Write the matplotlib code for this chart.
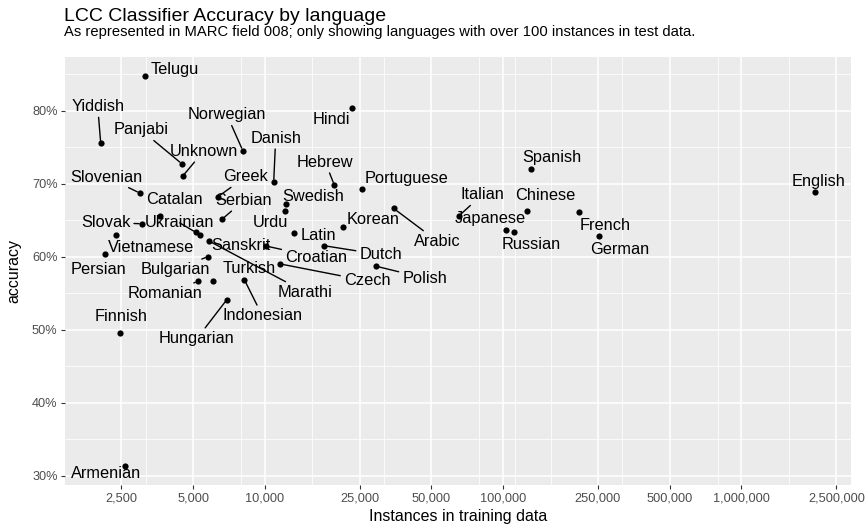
import numpy as np
import matplotlib
matplotlib.use("Agg")
import matplotlib.pyplot as plt
from matplotlib.ticker import FixedLocator, FuncFormatter, NullFormatter

plt.rcParams['font.family'] = ['Liberation Sans', 'DejaVu Sans']

# Values
languages = [
    "Telugu", "Yiddish", "Hindi", "Norwegian", "Panjabi", "Unknown", "Danish",
    "Hebrew", "Slovenian", "Greek", "Portuguese", "Swedish", "Urdu", "Serbian",
    "Catalan", "Slovak", "Ukrainian", "Sanskrit", "Marathi", "Bulgarian",
    "Romanian", "Turkish", "Indonesian", "Hungarian", "Finnish", "Armenian",
    "Croatian", "Vietnamese", "Persian", "Latin", "Korean", "Arabic", "Dutch",
    "Czech", "Polish", "Italian", "Japanese", "Russian", "Chinese", "Spanish",
    "French", "German", "English",
]
training_instances = [
    3150, 2050, 23200, 8090, 4490, 4520, 10900,
    19570, 2990, 6360, 25470, 12320, 12200, 6610,
    3640, 3050, 5150, 5340, 5860, 5770,
    5240, 6050, 8220, 6930, 2470, 2580,
    10120, 2380, 2130, 13310, 21230, 34720, 17660,
    11590, 29170, 65390, 102900, 111600, 125600, 130600,
    208900, 251700, 2040000,
]
accuracy = [
    0.847, 0.755, 0.803, 0.745, 0.727, 0.710, 0.702,
    0.698, 0.687, 0.682, 0.692, 0.672, 0.663, 0.651,
    0.655, 0.645, 0.633, 0.629, 0.621, 0.600,
    0.566, 0.567, 0.568, 0.541, 0.496, 0.314,
    0.6145, 0.6295, 0.603, 0.632, 0.641, 0.666, 0.615,
    0.590, 0.587, 0.656, 0.637, 0.634, 0.662, 0.720,
    0.661, 0.628, 0.688,
]

x_breaks = [2500, 5000, 10000, 25000, 50000, 100000, 250000, 500000, 1000000, 2500000]
x_minor = [10 ** e for e in (3.5, 3.9, 4.2, 4.5, 4.9, 5.05, 5.2, 5.5, 5.9, 6.2)]
y_breaks = [0.3, 0.4, 0.5, 0.6, 0.7, 0.8]
y_minor = [0.35, 0.45, 0.55, 0.65, 0.75, 0.85]

# label placement (pixel offsets from the point, repel-style), hand tuned
label_offsets = {
    "Telugu": (30, 7), "Yiddish": (-3, 37), "Hindi": (-21, -11),
    "Norwegian": (-16, 36), "Panjabi": (-41, 34), "Unknown": (21, 25),
    "Danish": (2, 44), "Hebrew": (-9, 23), "Slovenian": (-33, 16),
    "Greek": (28, 20), "Portuguese": (45, 11), "Swedish": (27, 8),
    "Urdu": (-15, -12), "Serbian": (22, 19), "Catalan": (14, 17),
    "Slovak": (-36, 1), "Ukrainian": (-17, 10), "Sanskrit": (41, -10),
    "Marathi": (96, -51), "Bulgarian": (-32, -13), "Romanian": (-33, -12),
    "Turkish": (36, 12), "Indonesian": (18, -36), "Hungarian": (-30, -39),
    "Finnish": (1, 16), "Armenian": (-18, -8), "Croatian": (50, -11),
    "Vietnamese": (35, -12), "Persian": (-6, -15), "Latin": (24, -2),
    "Korean": (30, 7), "Arabic": (44, -33), "Dutch": (57, -9),
    "Czech": (87, -17), "Polish": (49, -12), "Italian": (23, 21),
    "Japanese": (-16, 11), "Russian": (17, -13), "Chinese": (19, 16),
    "Spanish": (21, 11), "French": (26, -13), "German": (21, -13),
    "English": (3, 11),
}
with_segment = {
    "Yiddish", "Hindi", "Norwegian", "Panjabi", "Unknown", "Danish", "Hebrew",
    "Slovenian", "Greek", "Urdu", "Serbian", "Slovak", "Ukrainian", "Marathi",
    "Bulgarian", "Romanian", "Indonesian", "Hungarian", "Croatian", "Arabic",
    "Dutch", "Czech", "Polish", "Italian", "Japanese",
}

W, H = 865, 528
fig = plt.figure(figsize=(W / 100, H / 100), dpi=100)
ax = fig.add_axes([65 / W, 1 - 485 / H, (851 - 65) / W, (485 - 56.7) / H])

ax.set_facecolor("#EBEBEB")
for s in ax.spines.values():
    s.set_visible(False)

ax.set_xscale("log")
lx = np.log10(training_instances)
pad = 0.05 * (lx.max() - lx.min())
ax.set_xlim(10 ** (lx.min() - pad), 10 ** (lx.max() + pad))
ypad = 0.05 * (max(accuracy) - min(accuracy))
ax.set_ylim(min(accuracy) - ypad, max(accuracy) + ypad)

ax.xaxis.set_major_locator(FixedLocator(x_breaks))
ax.xaxis.set_minor_locator(FixedLocator(x_minor))
ax.xaxis.set_major_formatter(FuncFormatter(lambda v, p: f"{int(round(v)):,}"))
ax.xaxis.set_minor_formatter(NullFormatter())
ax.yaxis.set_major_locator(FixedLocator(y_breaks))
ax.yaxis.set_minor_locator(FixedLocator(y_minor))
ax.yaxis.set_major_formatter(FuncFormatter(lambda v, p: f"{v * 100:.0f}%"))

ax.grid(which="major", color="white", linewidth=1.1)
ax.grid(which="minor", color="white", linewidth=0.55)
ax.set_axisbelow(True)
ax.tick_params(which="major", length=2.8, width=0.8, color="#333333",
               labelcolor="#4D4D4D", labelsize=9.2, pad=2.5)
ax.tick_params(which="minor", length=0)

ax.scatter(training_instances, accuracy, s=20, color="black", linewidths=0, zorder=3)

for lang, x, y in zip(languages, training_instances, accuracy):
    dx, dy = label_offsets[lang]
    arrow = None
    if lang in with_segment:
        arrow = dict(arrowstyle="-", color="black", lw=1.0, shrinkA=0.5, shrinkB=2)
    ax.annotate(lang, (x, y), xytext=(dx, dy), textcoords="offset pixels",
                ha="center", va="center", fontsize=11.8, color="black",
                arrowprops=arrow, zorder=4)

ax.set_xlabel("Instances in training data", fontsize=11.5, labelpad=3)
ax.set_ylabel("accuracy", fontsize=11.5, labelpad=7.5)

fig.text(64 / W, 1 - 20.7 / H, "LCC Classifier Accuracy by language",
         fontsize=14, va="baseline", ha="left")
fig.text(64 / W, 1 - 36 / H,
         "As represented in MARC field 008; only showing languages with over 100 instances in test data.",
         fontsize=10.6, va="baseline", ha="left")

fig.savefig("out.png", dpi=100)
plt.close(fig)
